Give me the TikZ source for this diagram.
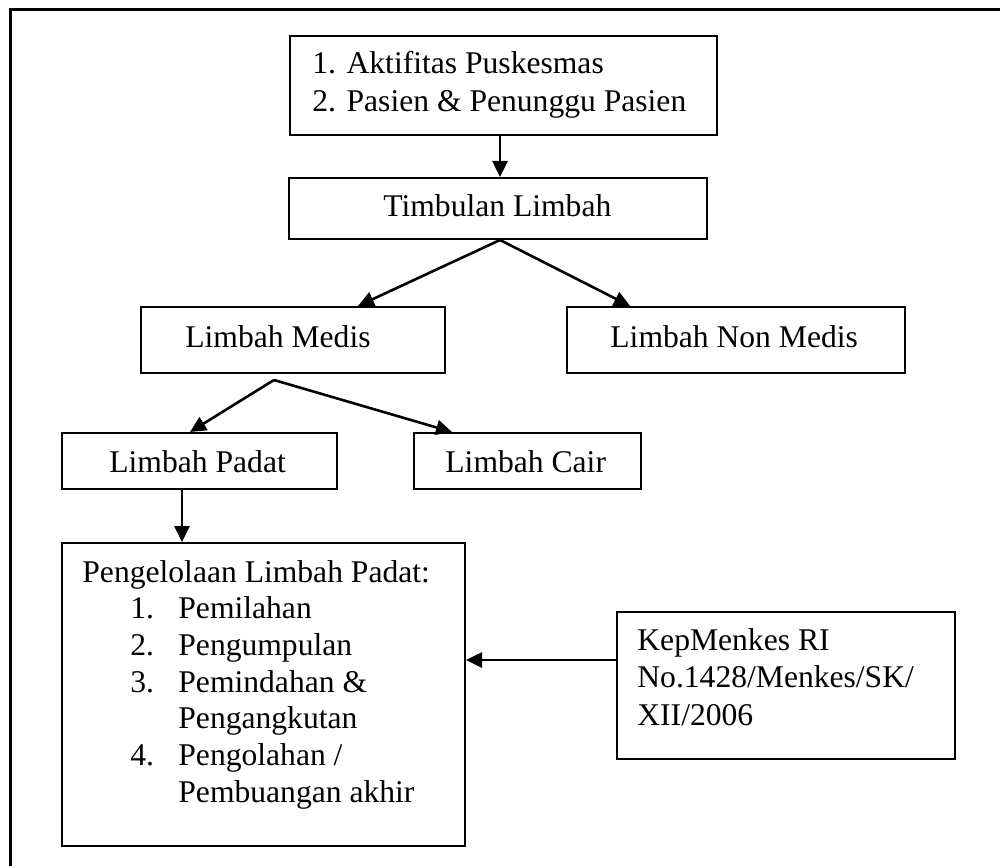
\documentclass[tikz,border=0pt]{standalone}
\usepackage{fontspec}
\setmainfont{Liberation Serif}
\usetikzlibrary{arrows.meta,calc}
\begin{document}
\begin{tikzpicture}[x=0.5pt,y=-0.5pt,
  box/.style={rectangle,draw,line width=1pt,inner sep=0pt,anchor=north west},
  txt/.style={anchor=base west,inner sep=0pt,font=\fontsize{15.8}{18}\selectfont},
  arr/.style={line width=1.3pt,-{Triangle[length=8pt,width=7.5pt]}}]
\useasboundingbox (0,0) rectangle (1000,866);
% frame
\draw[line width=1.5pt] (1000,10) -- (10,10) -- (10,866);
% boxes
\node[box,minimum width=213.5pt,minimum height=49.5pt] (top) at (289,35) {};
\node[box,minimum width=209pt,minimum height=30.5pt] (timb) at (288,177) {};
\node[box,minimum width=152pt,minimum height=33pt] (med) at (140,306) {};
\node[box,minimum width=169pt,minimum height=33pt] (non) at (566,306) {};
\node[box,minimum width=137.5pt,minimum height=28pt] (padat) at (61,432) {};
\node[box,minimum width=113.5pt,minimum height=28pt] (cair) at (413,432) {};
\node[box,minimum width=201.5pt,minimum height=151.5pt] (peng) at (61,542) {};
\node[box,minimum width=169pt,minimum height=73.5pt] (kep) at (616,611) {};
% texts
\node[txt] (t1) at (312,74) {1. Aktifitas Puskesmas};
\node[txt] (t2) at (312,112) {2. Pasien \& Penunggu Pasien};
\node[txt] (t3) at (383,217) {Timbulan Limbah};
\node[txt] (t4) at (185,347) {Limbah Medis};
\node[txt] (t5) at (610,347) {Limbah Non Medis};
\node[txt] (t6) at (109,472) {Limbah Padat};
\node[txt] (t7) at (445,472) {Limbah Cair};
\node[txt] (p0) at (82,582) {Pengelolaan Limbah Padat:};
\node[txt] (p1n) at (130,618) {1.};
\node[txt] (p1) at (178,618) {Pemilahan};
\node[txt] (p2n) at (130,655) {2.};
\node[txt] (p2) at (178,655) {Pengumpulan};
\node[txt] (p3n) at (130,692) {3.};
\node[txt] (p3) at (178,692) {Pemindahan \&};
\node[txt] (p3b) at (178,728) {Pengangkutan};
\node[txt] (p4n) at (130,765) {4.};
\node[txt] (p4) at (178,765) {Pengolahan /};
\node[txt] (p4b) at (178,802) {Pembuangan akhir};
\node[txt] (k1) at (637,650) {KepMenkes RI};
\node[txt] (k2) at (637,687) {No.1428/Menkes/SK/};
\node[txt] (k3) at (637,725) {XII/2006};
% arrows
\draw[arr] ($(top.south west)+(211,0)$) -- ($(timb.north west)+(212,0)$);
\draw[arr] ($(timb.south west)+(212,0)$) -- ($(med.north west)+(218,0)$);
\draw[arr] ($(timb.south west)+(212,0)$) -- ($(non.north west)+(64,0)$);
\coordinate (ms) at ($(med.south west)+(134,6)$);
\draw[arr] (ms) -- ($(padat.north west)+(129,0)$);
\draw[arr] (ms) -- ($(cair.north west)+(39,0)$);
\draw[arr] ($(padat.south west)+(121,0)$) -- ($(peng.north west)+(121,0)$);
\draw[arr] ($(kep.north west)+(0,49)$) -- ($(peng.north east)+(0,118)$);
\end{tikzpicture}
\end{document}
